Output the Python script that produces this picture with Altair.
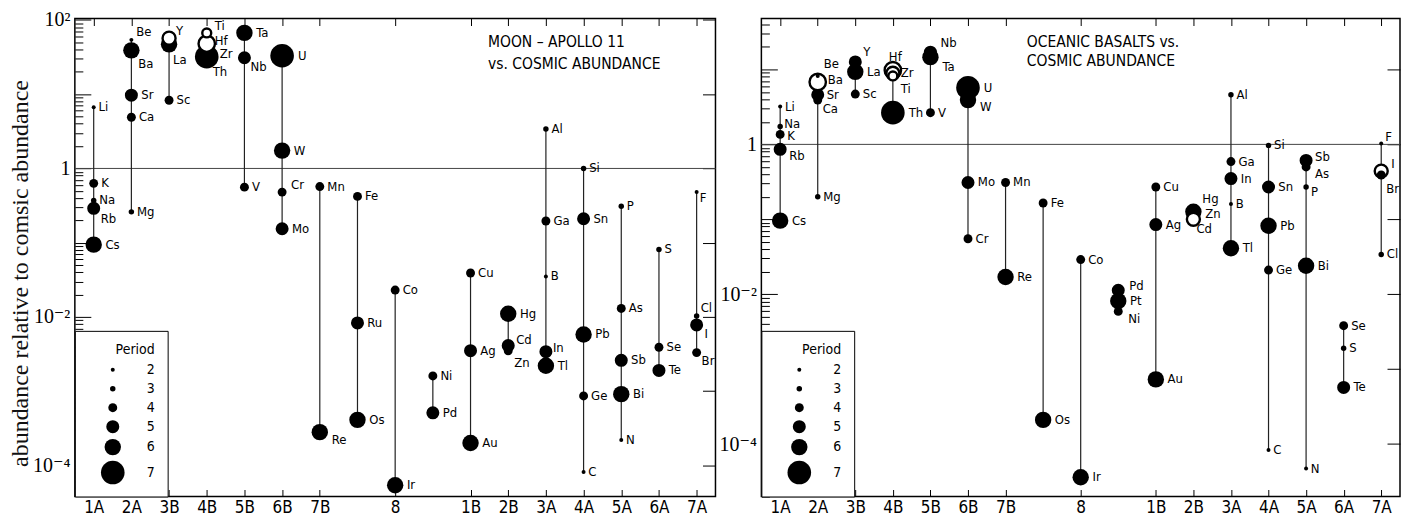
import altair as alt
import numpy as np
import pandas as pd

# ---------------- data ----------------
GROUP_TICKS = [0, 1, 2, 3, 4, 5, 6, 8, 10, 11, 12, 13, 14, 15, 16]
GROUP_LABELS = ["1A", "2A", "3B", "4B", "5B", "6B", "7B", "8", "1B", "2B", "3A", "4A", "5A", "6A", "7A"]

COLUMN = {
    "Li": 0, "Na": 0, "K": 0, "Rb": 0, "Cs": 0,
    "Be": 1, "Mg": 1, "Ca": 1, "Sr": 1, "Ba": 1,
    "Sc": 2, "Y": 2, "La": 2,
    "Ti": 3, "Zr": 3, "Hf": 3, "Th": 3,
    "V": 4, "Nb": 4, "Ta": 4,
    "Cr": 5, "Mo": 5, "W": 5, "U": 5,
    "Mn": 6, "Re": 6,
    "Fe": 7, "Ru": 7, "Os": 7,
    "Co": 8, "Ir": 8,
    "Ni": 9, "Pd": 9, "Pt": 9,
    "Cu": 10, "Ag": 10, "Au": 10,
    "Zn": 11, "Cd": 11, "Hg": 11,
    "B": 12, "Al": 12, "Ga": 12, "In": 12, "Tl": 12,
    "C": 13, "Si": 13, "Ge": 13, "Sn": 13, "Pb": 13,
    "N": 14, "P": 14, "As": 14, "Sb": 14, "Bi": 14,
    "S": 15, "Se": 15, "Te": 15,
    "F": 16, "Cl": 16, "Br": 16, "I": 16,
}
PERIOD = {
    "Li": 2, "Be": 2, "B": 2, "C": 2, "N": 2, "F": 2,
    "Na": 3, "Mg": 3, "Al": 3, "Si": 3, "P": 3, "S": 3, "Cl": 3,
    "K": 4, "Ca": 4, "Sc": 4, "Ti": 4, "V": 4, "Cr": 4, "Mn": 4, "Fe": 4, "Co": 4,
    "Ni": 4, "Cu": 4, "Zn": 4, "Ga": 4, "Ge": 4, "As": 4, "Se": 4, "Br": 4,
    "Rb": 5, "Sr": 5, "Y": 5, "Zr": 5, "Nb": 5, "Mo": 5, "Ru": 5, "Pd": 5, "Ag": 5,
    "Cd": 5, "In": 5, "Sn": 5, "Sb": 5, "Te": 5, "I": 5,
    "Cs": 6, "Ba": 6, "La": 6, "Hf": 6, "Ta": 6, "W": 6, "Re": 6, "Os": 6, "Ir": 6,
    "Pt": 6, "Au": 6, "Hg": 6, "Tl": 6, "Pb": 6, "Bi": 6,
    "Th": 7, "U": 7,
}

MOON_ELEMENTS = ["Li", "Na", "K", "Rb", "Cs", "Be", "Mg", "Ca", "Sr", "Ba",
                 "Sc", "Y", "La", "Ti", "Zr", "Hf", "Th", "V", "Nb", "Ta",
                 "Cr", "Mo", "W", "U", "Mn", "Re", "Fe", "Ru", "Os", "Co", "Ir",
                 "Ni", "Pd", "Cu", "Ag", "Au", "Zn", "Cd", "Hg",
                 "B", "Al", "Ga", "In", "Tl", "C", "Si", "Ge", "Sn", "Pb",
                 "N", "P", "As", "Sb", "Bi", "S", "Se", "Te", "F", "Cl", "Br", "I"]
MOON_VALUES = [6.7, 0.37, 0.63, 0.29, 0.094, 54, 0.26, 4.9, 9.7, 39,
               8.3, 57, 47, 67, 36, 48, 32, 0.56, 31, 67,
               0.48, 0.154, 1.74, 33, 0.57, 2.8e-4, 0.42, 0.0083, 4.1e-4, 0.023, 5.4e-5,
               1.6e-3, 5.1e-4, 0.039, 3.5e-3, 2.0e-4, 3.5e-3, 4.1e-3, 0.011,
               0.035, 3.4, 0.196, 3.4e-3, 2.2e-3, 8.1e-5, 1.0, 8.6e-4, 0.21, 5.8e-3,
               2.2e-4, 0.31, 0.013, 2.6e-3, 9.1e-4, 0.081, 3.9e-3, 1.9e-3, 0.48, 0.0103, 3.3e-3, 7.8e-3]

BASALT_ELEMENTS = ["Li", "Na", "K", "Rb", "Cs", "Be", "Mg", "Ca", "Sr", "Ba",
                   "Sc", "Y", "La", "Ti", "Zr", "Hf", "Th", "V", "Nb", "Ta",
                   "Cr", "Mo", "W", "U", "Mn", "Re", "Fe", "Os", "Co", "Ir",
                   "Ni", "Pd", "Pt", "Cu", "Ag", "Au", "Zn", "Cd", "Hg",
                   "B", "Al", "Ga", "In", "Tl", "C", "Si", "Ge", "Sn", "Pb",
                   "N", "P", "As", "Sb", "Bi", "S", "Se", "Te", "F", "Cl", "Br", "I"]
BASALT_VALUES = [3.2, 1.73, 1.36, 0.86, 0.096, 8.2, 0.2, 3.9, 4.6, 6.8,
                 4.7, 12.6, 9.3, 8.2, 8.9, 9.8, 2.65, 2.65, 17, 14.6,
                 0.055, 0.31, 3.9, 5.7, 0.31, 0.017, 0.165, 2.1e-4, 0.029, 3.6e-5,
                 5.9e-3, 0.0113, 8.1e-3, 0.27, 0.085, 7.3e-4, 0.108, 0.10, 0.126,
                 0.16, 4.6, 0.59, 0.35, 0.041, 8.3e-5, 0.97, 0.021, 0.27, 0.082,
                 4.7e-5, 0.27, 0.50, 0.61, 0.024, 1.9e-3, 3.8e-3, 5.7e-4, 1.03, 0.034, 0.39, 0.44]

PERIOD_DOMAIN = [2, 3, 4, 5, 6, 7]

# ---------------- styles ----------------
PERIOD_AREA = [16, 30, 80, 170, 270, 560]
MOON_OPEN = ["Y", "Ti", "Hf"]
BASALT_OPEN = ["Ba", "Hf", "Zr", "Ti", "Cd", "I"]
ON_TOP = ["Be", "Br"]

# label offsets in pixels (dx right, dy down) for labels not simply placed to the right
MOON_LABEL_OFFSETS = {
    "Be": (5, -8), "Ba": (7, 14), "Y": (7, -7), "La": (4, 16), "Ti": (8, -7),
    "Hf": (8, -3), "Zr": (13, 1), "Th": (6, 15), "Nb": (6, 9), "Cr": (9, -7),
    "Rb": (7, 11), "Re": (12, 8), "Cd": (8, -6), "Zn": (6, 12), "In": (7, -4),
    "F": (3, 6), "Cl": (4, -8), "I": (8, 9), "Br": (5, 8),
}
BASALT_LABEL_OFFSETS = {
    "Na": (4, -3), "K": (7, 2),
    "Rb": (9, 7), "Be": (6, -12), "Ba": (10, -2), "Sr": (9, 0), "Ca": (5, 9),
    "Y": (8, -10), "Hf": (-4, -13), "Zr": (8, 0), "Ti": (8, 13), "Nb": (10, -9),
    "Ta": (12, 10), "W": (12, 7), "Pd": (11, -4), "Ni": (10, 8), "Hg": (9, -13),
    "Zn": (12, -3), "Cd": (3, 10), "Sb": (9, -3), "As": (9, 7), "P": (5, 5),
    "F": (4, -6), "I": (10, -7), "Br": (5, 14),
}

COND = "Liberation Sans Narrow, DejaVu Sans Condensed, Arial Narrow, sans-serif"
SERIF = "Liberation Serif, DejaVu Serif, serif"
XDOMAIN = [-0.5, 16.5]


def build(elements, values, open_list, offsets, ydomain, W, H):
    # pixel offsets of labels -> data-space offsets, so text goes through the scales
    x_units_per_px = (XDOMAIN[1] - XDOMAIN[0]) / W
    dec_per_px = (np.log10(ydomain[1]) - np.log10(ydomain[0])) / H
    rows = []
    for e, v in zip(elements, values):
        p = PERIOD[e]
        r = float(np.sqrt(PERIOD_AREA[PERIOD_DOMAIN.index(p)] / np.pi))
        dx, dy = offsets.get(e, (r + 2.5, 0))
        is_open = e in open_list
        z = (10 if is_open else 0) + (8 - p) + (20 if e in ON_TOP else 0)
        rows.append(dict(el=e, col=COLUMN[e], period=p, value=v, open=is_open, z=z,
                         lx=COLUMN[e] + dx * x_units_per_px,
                         ly=v * 10 ** (-dy * dec_per_px)))
    return pd.DataFrame(rows)


X_LABEL_EXPR = ("[" + ",".join(f"'{l}'" for l in GROUP_LABELS) + "][indexof(["
                + ",".join(str(t) for t in GROUP_TICKS) + "], datum.value)]")
Y_LABEL_EXPR = ("datum.value > 50 ? '10\u00b2' : datum.value > 0.5 ? '1' : "
                "datum.value > 0.005 ? '10\u207b\u00b2' : '10\u207b\u2074'")


def panel(df, ydomain, major_vals, title_lines, title_x, title_lh, W, H, ytitle):
    xscale = alt.Scale(domain=XDOMAIN, nice=False, zero=False)
    yscale = alt.Scale(type="log", domain=ydomain, nice=False)
    minor = [m * 10.0 ** k for k in range(-6, 3) for m in range(2, 10)
             if ydomain[0] <= m * 10.0 ** k <= ydomain[1]]
    decades = [10.0 ** k for k in range(-6, 3) if ydomain[0] <= 10.0 ** k <= ydomain[1]]

    label_kw = dict(orient="left", values=major_vals, labelExpr=Y_LABEL_EXPR, ticks=False,
                    domain=False, grid=False, labelFont=SERIF, labelFontSize=20,
                    labelPadding=5, labelColor="black")
    if ytitle:
        label_kw.update(title=ytitle, titleFont=SERIF, titleFontSize=24,
                        titleFontWeight="normal", titleColor="#111", titleAngle=-90,
                        titleBaseline="bottom", titleX=-42, titleY=255)
    else:
        label_kw.update(title=None)
    y_labels = alt.Axis(**label_kw)

    def tick_axis(orient, vals, size, offset):
        return alt.Axis(orient=orient, offset=offset, values=vals, labels=False, ticks=True,
                        tickSize=size, tickColor="black", tickWidth=1, domain=False,
                        grid=False, title=None)

    y_left_minor = tick_axis("right", minor, 8, -W)
    y_left_major = tick_axis("right", decades, 16, -W)
    y_right_minor = tick_axis("left", minor, 8, -W)
    y_right_major = tick_axis("left", decades, 13, -W)

    x_labels = alt.Axis(orient="bottom", values=GROUP_TICKS, labelExpr=X_LABEL_EXPR,
                        ticks=False, domain=False, grid=False, labelFont=COND,
                        labelFontSize=17, labelPadding=3, labelColor="black", title=None)
    x_top_in = tick_axis("bottom", GROUP_TICKS, 7, -H)
    x_bot_in = tick_axis("top", GROUP_TICKS, 7, -H)

    legend = alt.Legend(title="Period", orient="bottom-left", offset=0, fillColor="white",
                        strokeColor="black", padding=12, symbolOffset=14, labelOffset=22,
                        rowPadding=5, titlePadding=6, titleFont=COND, titleFontSize=14,
                        titleFontWeight="normal", titleColor="black", titleAnchor="end",
                        labelFont=COND, labelFontSize=14, labelColor="black",
                        symbolFillColor="black", symbolStrokeWidth=0, symbolType="circle",
                        symbolOpacity=1,
                        labelExpr="datum.label + '\u2007\u2007\u2007\u2007'")

    base = alt.Chart(df)

    hline = alt.Chart(pd.DataFrame({"v": [1.0]})).mark_rule(
        color="#444", strokeWidth=1).encode(
        y=alt.Y("v:Q", scale=yscale, axis=y_right_major))

    vlines = base.transform_aggregate(
        lo="min(value)", hi="max(value)", groupby=["col"]).mark_rule(
        color="#222", strokeWidth=1.2).encode(
        x=alt.X("col:Q", scale=xscale, axis=x_labels),
        y=alt.Y("lo:Q", scale=yscale, axis=y_labels),
        y2="hi:Q")

    points = base.mark_circle(opacity=1, stroke="black").encode(
        x=alt.X("col:Q", scale=xscale, axis=x_top_in),
        y=alt.Y("value:Q", scale=yscale, axis=y_left_minor),
        size=alt.Size("period:O",
                      scale=alt.Scale(type="ordinal", domain=PERIOD_DOMAIN, range=PERIOD_AREA),
                      legend=legend),
        fill=alt.condition("datum.open", alt.value("white"), alt.value("black")),
        strokeWidth=alt.condition("datum.open", alt.value(2.4), alt.value(0)),
        order=alt.Order("z:Q"),
    )

    labels = base.mark_text(align="left", baseline="middle", font=COND, fontSize=13,
                            color="black").encode(
        x=alt.X("lx:Q", scale=xscale, axis=x_bot_in),
        y=alt.Y("ly:Q", scale=yscale, axis=y_left_major),
        text="el:N",
    )

    title = alt.Chart(pd.DataFrame({"t": [0]})).mark_text(
        text=title_lines, align="left", baseline="top", font=COND, fontSize=15.5,
        lineHeight=title_lh, color="black").encode(
        x=alt.value(title_x), y=alt.value(17))

    return alt.layer(hline, vlines, points, labels, title).resolve_scale(
        x="shared", y="shared").resolve_axis(
        x="independent", y="independent").properties(width=W, height=H)


H = 479
W_LEFT, W_RIGHT = 642, 640
MOON_YDOMAIN = [10 ** -4.42, 10 ** 2.02]
BASALT_YDOMAIN = [10 ** -4.70, 10 ** 1.68]

moon_df = build(MOON_ELEMENTS, MOON_VALUES, MOON_OPEN, MOON_LABEL_OFFSETS,
                MOON_YDOMAIN, W_LEFT, H)
basalt_df = build(BASALT_ELEMENTS, BASALT_VALUES, BASALT_OPEN, BASALT_LABEL_OFFSETS,
                  BASALT_YDOMAIN, W_RIGHT, H)

left = panel(moon_df, MOON_YDOMAIN, [1e-4, 1e-2, 1, 1e2],
             ["MOON \u2013 APOLLO 11", "vs. COSMIC ABUNDANCE"], 414, 22, W_LEFT, H,
             "abundance relative to comsic abundance")
right = panel(basalt_df, BASALT_YDOMAIN, [1e-4, 1e-2, 1],
              ["OCEANIC BASALTS vs.", "COSMIC ABUNDANCE"], 266, 19, W_RIGHT, H, None)

chart = alt.hconcat(left, right, spacing=0).resolve_scale(
    x="independent", y="independent", size="independent").resolve_legend(
    size="independent").configure_view(stroke="black", strokeWidth=1.5).properties(
    padding={"left": 0, "top": 0, "right": 0, "bottom": 0}, background="white")

chart.save("out.html", embed_options={"renderer": "svg", "actions": False})
